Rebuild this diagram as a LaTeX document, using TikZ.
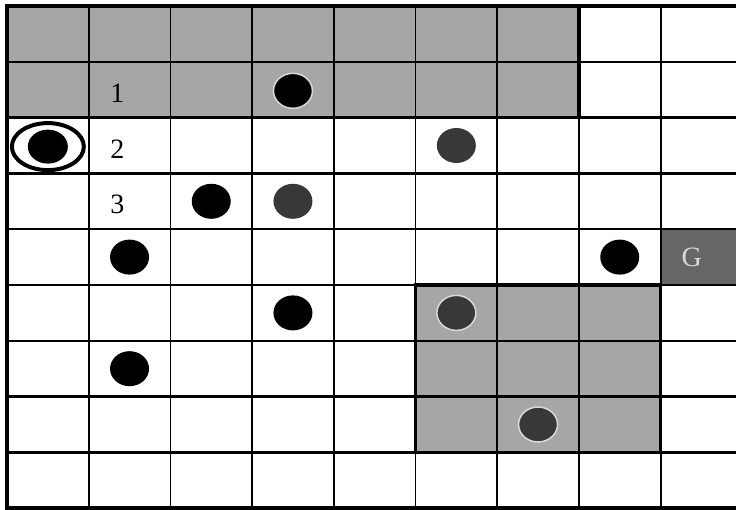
\documentclass[tikz,border=0pt]{standalone}
\usepackage{fontspec}
\setmainfont{Liberation Serif}
\usetikzlibrary{shapes.geometric}

\begin{document}
\begin{tikzpicture}[
    x=81.7pt, y=-55.8pt,
    cellfill/.style={fill=black!35},
    goalfill/.style={fill=black!60},
    blockline/.style={line width=3.5pt},
    piece/.style={ellipse, fill=black, minimum width=39pt, minimum height=35pt, inner sep=0pt},
    greypiece/.style={piece, fill=black!78},
    halo/.style={draw=white!85!black, line width=1.5pt},
    rowlabel/.style={font=\fontsize{28}{30}\selectfont, inner sep=0pt},
    agentring/.style={ellipse, draw=black, line width=4pt, minimum width=72pt, minimum height=47pt},
  ]
  \useasboundingbox[fill=white] (-0.0857,-0.1075) rectangle (8.923,9.032);
  \clip (-0.0857,-0.1075) rectangle (8.923,9.032);
  \fill[cellfill] (0,0) rectangle (7,2);
  \fill[cellfill] (5,5) rectangle (8,8);
  \fill[goalfill] (8,4) rectangle (9,5);
  \foreach \c in {1,...,8}
    \draw[line width=1.8pt] (\c,0) -- (\c,9);
  \foreach \r in {1,...,8}
    \draw[line width=2.5pt] (0,\r) -- (9,\r);
  \draw[blockline] (7,0) -- (7,2) -- (0,2);
  \draw[blockline] (5,5) rectangle (8,8);
  \draw[line width=4.5pt] (9,0) -- (0,0) -- (0,9) -- (9,9);

  \node[agentring] (agent) at (0.5,2.52) {};
  \node[piece, minimum width=40pt, minimum height=34pt] (a20) at (agent.center) {};
  \node[rowlabel] (n1) at (1.35,1.57) {1};
  \node[rowlabel] (n2) at (1.35,2.57) {2};
  \node[rowlabel] (n3) at (1.35,3.56) {3};
  \node[piece, halo] (p13) at (3.5,1.52) {};
  \node[greypiece] (p25) at (5.5,2.5) {};
  \node[piece] (p32) at (2.5,3.5) {};
  \node[greypiece] (p33) at (3.5,3.5) {};
  \node[piece] (p41) at (1.5,4.5) {};
  \node[piece] (p47) at (7.5,4.5) {};
  \node[rowlabel, text=white!85!black] (goal) at (8.38,4.5) {G};
  \node[piece] (p53) at (3.5,5.5) {};
  \node[greypiece, halo] (p55) at (5.5,5.5) {};
  \node[piece] (p61) at (1.5,6.5) {};
  \node[greypiece, halo] (p76) at (6.5,7.5) {};
\end{tikzpicture}
\end{document}
